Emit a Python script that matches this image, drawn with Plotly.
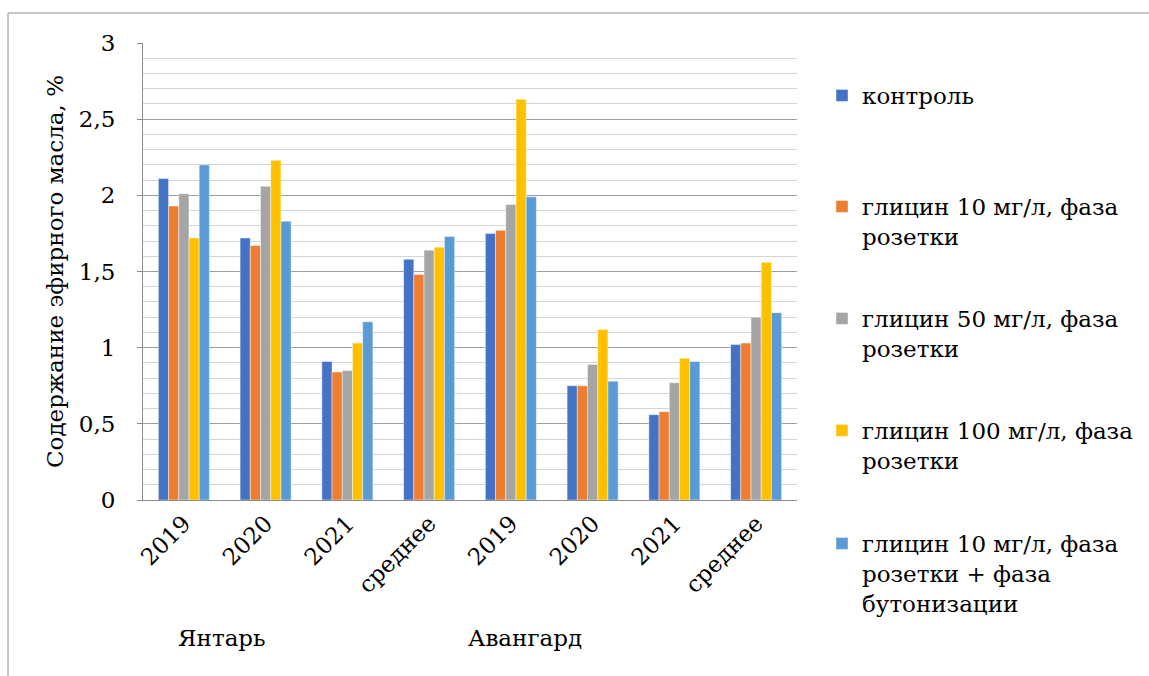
import plotly.graph_objects as go

# Categories along the x axis (two cultivars, three seasons plus mean each)
categories = ["2019", "2020", "2021", "среднее", "2019 ", "2020 ", "2021 ", "среднее "]
tick_labels = ["2019", "2020", "2021", "среднее", "2019", "2020", "2021", "среднее"]
group_labels = ["Янтарь", "Авангард"]

# Essential oil content, % for each treatment
kontrol = [2.11, 1.72, 0.91, 1.58, 1.75, 0.75, 0.56, 1.02]
glycine_10 = [1.93, 1.67, 0.84, 1.48, 1.77, 0.75, 0.58, 1.03]
glycine_50 = [2.01, 2.06, 0.85, 1.64, 1.94, 0.89, 0.77, 1.20]
glycine_100 = [1.72, 2.23, 1.03, 1.66, 2.63, 1.12, 0.93, 1.56]
glycine_10_bud = [2.20, 1.83, 1.17, 1.73, 1.99, 0.78, 0.91, 1.23]

series_names = [
    "контроль",
    "глицин 10 мг/л, фаза<br>розетки",
    "глицин 50 мг/л, фаза<br>розетки",
    "глицин 100 мг/л, фаза<br>розетки",
    "глицин 10 мг/л, фаза<br>розетки + фаза<br>бутонизации",
]
series_values = [kontrol, glycine_10, glycine_50, glycine_100, glycine_10_bud]
colors = ["#4472C4", "#ED7D31", "#A5A5A5", "#FFC000", "#5B9BD5"]

W, H = 1149, 676
L, R, T, B = 143, 352, 43, 176
PW, PH = W - L - R, H - T - B


def px_x(px):
    return (px - L) / PW


def px_y(py):
    return (H - B - py) / PH


FONT = "DejaVu Serif"
FS = 23

fig = go.Figure()
legend_ids = ["legend", "legend2", "legend3", "legend4", "legend5"]
legend_tops = [74, 185, 297, 409, 522]

for name, vals, col, lid in zip(series_names, series_values, colors, legend_ids):
    fig.add_trace(go.Bar(
        x=categories, y=vals, name=name,
        marker=dict(color=col, line=dict(color="rgba(255,255,255,0.55)", width=0.8)),
        legend=lid,
    ))

layout_legends = {}
for lid, top in zip(legend_ids, legend_tops):
    layout_legends[lid] = dict(
        x=px_x(822), y=px_y(top), xanchor="left", yanchor="top",
        xref="paper", yref="paper", valign="top",
        font=dict(family=FONT, size=FS, color="#000000"),
        bgcolor="rgba(0,0,0,0)", borderwidth=0,
    )

fig.update_layout(
    width=W, height=H,
    margin=dict(l=L, r=R, t=T, b=B, pad=0, autoexpand=False),
    paper_bgcolor="white", plot_bgcolor="white",
    barmode="group", bargap=0.376, bargroupgap=0,
    separators=", ",
    font=dict(family=FONT, size=FS, color="#000000"),
    showlegend=True,
    **layout_legends,
)

fig.update_xaxes(
    type="category", tickmode="array", tickvals=categories, ticktext=tick_labels,
    tickangle=-45, showline=True, linecolor="#8c8c8c", linewidth=1,
    showgrid=False, ticks="", tickfont=dict(family=FONT, size=FS),
)

fig.update_yaxes(
    range=[0, 3], dtick=0.5, tick0=0,
    showline=True, linecolor="#8c8c8c", linewidth=1,
    ticks="outside", ticklen=5, tickcolor="#8c8c8c",
    gridcolor="#9e9e9e", gridwidth=1,
    minor=dict(dtick=0.1, showgrid=True, gridcolor="#d4d4d4", gridwidth=1, ticks=""),
    tickfont=dict(family=FONT, size=FS),
    ticklabelstandoff=17,
    title=dict(text="Содержание эфирного масла, %", font=dict(family=FONT, size=FS), standoff=8),
    zeroline=False,
)

# Cultivar names under the category labels
for text, cx in zip(group_labels, [222, 525]):
    fig.add_annotation(
        text=text, x=px_x(cx), y=px_y(638), xref="paper", yref="paper",
        xanchor="center", yanchor="middle", showarrow=False,
        font=dict(family=FONT, size=FS, color="#000000"),
    )

# Outer chart frame (left and top edges)
fig.add_shape(type="line", xref="paper", yref="paper",
              x0=px_x(8), x1=px_x(8), y0=px_y(13), y1=px_y(H + 40),
              line=dict(color="#8c8c8c", width=1))
fig.add_shape(type="line", xref="paper", yref="paper",
              x0=px_x(8), x1=px_x(W + 40), y0=px_y(13), y1=px_y(13),
              line=dict(color="#8c8c8c", width=1))

fig.write_html("out.html")
